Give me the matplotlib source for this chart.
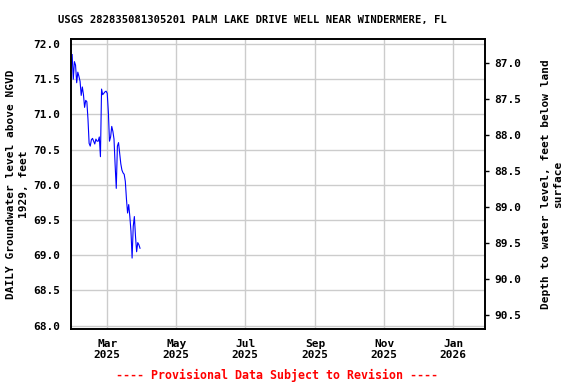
import numpy as np
import pandas as pd
import matplotlib
matplotlib.use("Agg")
import matplotlib.pyplot as plt
import matplotlib.dates as mdates

# daily groundwater level, feet above NGVD 1929
start_day = "2025-01-29"
levels = [71.85, 71.50, 71.75, 71.70, 71.45, 71.60, 71.54, 71.47, 71.27, 71.39,
          71.28, 71.10, 71.20, 71.18, 70.93, 70.59, 70.55, 70.64, 70.66, 70.62,
          70.58, 70.65, 70.62, 70.62, 70.68, 70.40, 71.36, 71.28, 71.30, 71.32,
          71.33, 71.30, 71.04, 70.62, 70.68, 70.83, 70.76, 70.65, 70.28, 69.95,
          70.55, 70.60, 70.45, 70.30, 70.21, 70.17, 70.15, 70.05, 69.80, 69.60,
          69.72, 69.55, 69.34, 68.96, 69.41, 69.55, 69.27, 69.05, 69.18, 69.15,
          69.10]
dates = pd.date_range(start_day, periods=len(levels), freq="D")

x_ticks = ["2025-03-01", "2025-05-01", "2025-07-01", "2025-09-01", "2025-11-01", "2026-01-01"]
x_range = ("2025-01-28", "2026-01-29")
y_ticks = [68.0, 68.5, 69.0, 69.5, 70.0, 70.5, 71.0, 71.5, 72.0]
depth_ticks = [87.0, 87.5, 88.0, 88.5, 89.0, 89.5, 90.0, 90.5]

mono = "DejaVu Sans Mono"

fig = plt.figure(figsize=(5.76, 3.84), dpi=100)
ax = fig.add_axes([0.1233, 0.1432, 0.7187, 0.7545])

ax.plot(dates, levels, color="#0000ff", lw=0.8)

ax.set_xlim(pd.Timestamp(x_range[0]), pd.Timestamp(x_range[1]))
ax.set_ylim(67.953, 72.067)
ax.set_yticks(y_ticks)
ax.set_yticklabels([f"{v:.1f}" for v in y_ticks], fontfamily=mono, fontweight="bold", fontsize=8)
ax.set_xticks([pd.Timestamp(d) for d in x_ticks])
ax.xaxis.set_major_formatter(mdates.DateFormatter("%b\n%Y"))
for lab in ax.get_xticklabels():
    lab.set_fontfamily(mono)
    lab.set_fontweight("bold")
    lab.set_fontsize(8)
ax.tick_params(axis="both", length=0, pad=8)
ax.tick_params(axis="x", pad=7)
ax.grid(True, color="#cccccc", lw=1)
ax.set_axisbelow(True)
for s in ax.spines.values():
    s.set_linewidth(1.2)

ax.set_ylabel("DAILY Groundwater level above NGVD\n1929, feet", fontfamily=mono,
              fontweight="bold", fontsize=8, linespacing=1.3, labelpad=3)

# right axis: depth below land surface (inverted)
ax2 = ax.twinx()
ax2.set_ylim(90.694, 86.675)
ax2.set_yticks(depth_ticks)
ax2.set_yticklabels([f"{v:.1f}" for v in depth_ticks], fontfamily=mono, fontweight="bold", fontsize=8)
ax2.tick_params(length=3, width=1, pad=4)
for s in ax2.spines.values():
    s.set_linewidth(1.2)
ax2.set_ylabel("Depth to water level, feet below land\nsurface", fontfamily=mono,
               fontweight="bold", fontsize=8, linespacing=1.3, labelpad=14)

fig.text(0.4375, 0.947, "USGS 282835081305201 PALM LAKE DRIVE WELL NEAR WINDERMERE, FL",
         ha="center", va="center", fontfamily=mono, fontweight="bold", fontsize=7.6)
fig.text(0.481, 0.022, "---- Provisional Data Subject to Revision ----",
         ha="center", va="center", fontfamily=mono, fontweight="bold", fontsize=8.4, color="red")

fig.savefig("out.png", dpi=100)
